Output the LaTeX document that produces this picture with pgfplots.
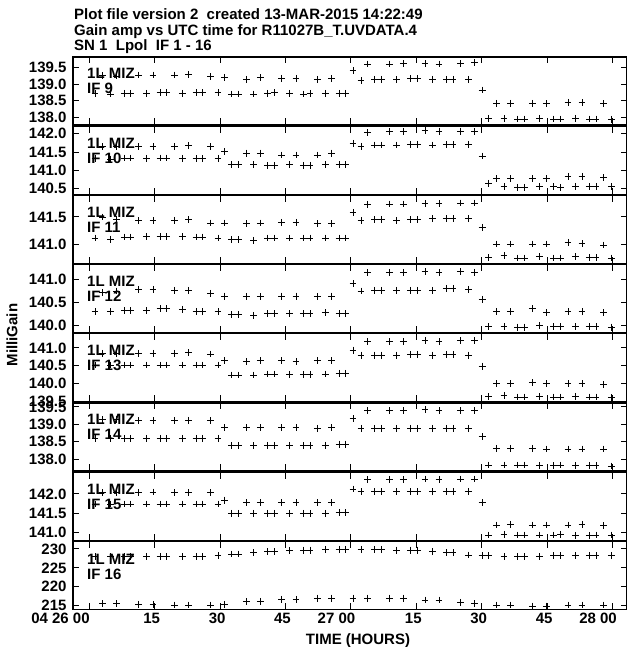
\documentclass[border=0pt]{standalone}
\usepackage{fontspec}
\setmainfont{Liberation Sans}
\usepackage{pgfplots}
\usepackage{pgfplotstable}
\pgfplotsset{compat=1.18}
\newcommand\lab{\bfseries\fontsize{15}{15}\selectfont}

\pgfplotstableread{
t p1 p2 p3 p4 p5 p6 p7 p8
3.1 139.26 141.65 141.50 140.72 140.85 139.13 142.04 215.6
6.3 139.25 141.65 141.46 140.75 140.85 139.13 142.04 215.6
11.3 139.28 141.65 141.43 140.79 140.85 139.11 142.04 215.4
14.6 139.28 141.65 141.43 140.79 140.85 139.11 142.05 215.4
19.6 139.28 141.65 141.44 140.77 140.85 139.11 142.04 215.2
22.8 139.29 141.67 141.45 140.77 140.87 139.12 142.04 215.2
27.8 139.23 141.65 141.39 140.70 140.83 139.11 142.03 215.2
31.0 139.21 141.51 141.39 140.64 140.64 138.91 141.84 215.4
36.0 139.15 141.47 141.38 140.63 140.61 138.91 141.77 216.1
39.2 139.20 141.47 141.39 140.63 140.64 138.91 141.77 216.2
44.1 139.18 141.42 141.40 140.64 140.64 138.91 141.77 216.7
47.4 139.18 141.42 141.40 140.64 140.61 138.91 141.77 216.7
52.3 139.15 141.42 141.38 140.63 140.64 138.89 141.77 217.0
55.6 139.17 141.47 141.38 140.64 140.64 138.91 141.77 217.0
60.5 139.41 141.74 141.58 140.91 140.94 139.17 142.13 217.0
63.8 139.61 142.03 141.73 141.15 141.18 139.39 142.37 217.0
68.8 139.61 142.05 141.74 141.16 141.18 139.39 142.37 217.0
72.0 139.63 142.05 141.74 141.16 141.18 139.39 142.37 217.0
77.0 139.63 142.09 141.75 141.18 141.20 139.42 142.39 216.5
80.2 139.61 142.07 141.75 141.16 141.18 139.40 142.37 216.5
85.2 139.63 142.07 141.76 141.18 141.20 139.40 142.39 215.9
88.4 139.65 142.05 141.76 141.16 141.20 139.40 142.39 215.6
93.4 138.42 140.78 141.00 140.30 140.00 138.31 141.19 215.2
96.6 138.42 140.78 141.00 140.30 140.00 138.31 141.21 215.2
101.6 138.42 140.78 141.00 140.37 140.02 138.31 141.19 214.9
104.8 138.40 140.78 141.00 140.28 140.00 138.29 141.19 214.9
109.8 138.45 140.84 141.03 140.30 140.00 138.29 141.19 215.2
113.0 138.44 140.84 141.01 140.30 140.00 138.29 141.21 215.2
118.0 138.40 140.80 140.98 140.28 139.97 138.29 141.17 215.2
}\tabA

\pgfplotstableread{
t p1 p2 p3 p4 p5 p6 p7 p8
1.3 138.72 141.33 141.11 140.30 140.52 138.60 141.74 228.0
4.9 138.70 141.31 141.09 140.30 140.52 138.60 141.74 228.0
8.0 138.72 141.34 141.13 140.32 140.52 138.60 141.74 228.0
9.5 138.72 141.34 141.13 140.32 140.52 138.60 141.74 228.0
13.1 138.72 141.33 141.14 140.32 140.52 138.60 141.74 228.0
16.2 138.74 141.34 141.14 140.37 140.52 138.60 141.74 228.0
17.7 138.74 141.34 141.14 140.37 140.52 138.60 141.74 228.0
21.3 138.72 141.33 141.14 140.35 140.52 138.60 141.74 228.0
24.5 138.74 141.32 141.13 140.30 140.52 138.60 141.74 228.0
26.0 138.74 141.32 141.13 140.30 140.52 138.60 141.74 228.0
29.5 138.74 141.33 141.11 140.30 140.52 138.60 141.74 228.2
32.7 138.70 141.15 141.08 140.23 140.24 138.38 141.50 228.7
34.2 138.70 141.15 141.08 140.23 140.24 138.38 141.50 228.7
37.7 138.70 141.16 141.07 140.22 140.24 138.38 141.50 229.0
40.9 138.72 141.13 141.11 140.25 140.27 138.40 141.50 229.3
42.4 138.74 141.13 141.11 140.25 140.27 138.38 141.50 229.3
45.9 138.72 141.15 141.11 140.25 140.26 138.38 141.50 229.6
49.1 138.70 141.14 141.11 140.25 140.26 138.38 141.50 229.7
50.6 138.72 141.14 141.11 140.25 140.26 138.38 141.50 229.7
54.1 138.72 141.15 141.11 140.28 140.27 138.40 141.50 229.9
57.3 138.72 141.15 141.11 140.25 140.29 138.43 141.51 229.9
58.8 138.72 141.15 141.11 140.25 140.29 138.43 141.51 229.9
62.3 139.10 141.66 141.43 140.75 140.80 138.89 142.06 229.9
65.5 139.15 141.69 141.45 140.77 140.80 138.89 142.06 229.9
67.0 139.15 141.69 141.45 140.77 140.80 138.89 142.06 229.9
70.5 139.13 141.69 141.43 140.77 140.80 138.89 142.06 229.7
73.7 139.17 141.71 141.45 140.77 140.82 138.89 142.06 229.7
75.2 139.17 141.71 141.45 140.77 140.82 138.89 142.06 229.7
78.7 139.15 141.69 141.47 140.77 140.80 138.89 142.06 229.3
81.9 139.15 141.70 141.47 140.81 140.82 138.89 142.06 229.0
83.4 139.15 141.70 141.47 140.81 140.82 138.89 142.06 229.0
86.9 139.15 141.71 141.47 140.79 140.80 138.89 142.06 228.4
90.1 138.82 141.39 141.31 140.57 140.49 138.64 141.77 228.2
91.6 137.96 140.65 140.75 139.97 139.63 137.83 140.93 228.2
95.1 137.96 140.56 140.78 139.97 139.66 137.83 140.95 228.0
98.3 137.94 140.54 140.74 139.96 139.62 137.83 140.93 228.0
99.8 137.94 140.54 140.74 139.96 139.62 137.83 140.93 228.0
103.3 137.96 140.56 140.77 139.99 139.63 137.81 140.93 228.0
106.5 137.94 140.56 140.74 139.97 139.62 137.81 140.93 228.2
108.0 137.94 140.54 140.74 139.97 139.62 137.83 140.95 228.2
111.5 137.96 140.57 140.77 139.97 139.64 137.81 140.91 228.2
114.7 137.94 140.56 140.75 139.97 139.62 137.81 140.91 228.2
116.2 137.94 140.56 140.75 139.97 139.62 137.81 140.93 228.2
119.7 137.93 140.56 140.74 139.96 139.60 137.80 140.93 228.2
}\tabB

\pgfplotsset{
  panel/.style={
    scale only axis, width=554pt, height=68pt,
    xmin=-3.74, xmax=123.33,
    xtick={0,15,30,45,60,75,90,105,120}, xticklabels={},
    scaled y ticks=false,
    axis line style={line width=1.2pt},
    tick style={black, line width=1pt},
    major tick length=6.5pt,
    tick align=inside,
    tick label style={font=\lab},
    /pgf/number format/assume math mode=true,
    yticklabel style={xshift=-3pt, /pgf/number format/fixed, /pgf/number format/fixed zerofill, /pgf/number format/precision=1},
    anchor=south west,
  },
  pts/.style={only marks, mark=+, mark size=3.4pt, black, mark options={line width=0.8pt}},
}
\tikzset{plab/.style={anchor=base west, inner sep=0pt, font=\lab, xshift=14pt}}

\begin{document}
\begin{tikzpicture}
\useasboundingbox (0,0) rectangle (626pt,647pt);
\node[anchor=base west, inner sep=0pt, font=\lab] at (74pt,627pt) {Plot file version 2\ \ created 13-MAR-2015 14:22:49};
\node[anchor=base west, inner sep=0pt, font=\lab] at (74pt,611.3pt) {Gain amp vs UTC time for R11027B\_T.UVDATA.4};
\node[anchor=base west, inner sep=0pt, font=\lab] at (74pt,596.5pt) {SN 1\ \ Lpol\ \ IF 1 - 16};
\node[rotate=90, inner sep=0pt, font=\lab] at (12pt,312pt) {MilliGain};
\node[anchor=base, inner sep=0pt, font=\lab] at (358pt,2pt) {TIME (HOURS)};

\begin{axis}[panel, at={(73pt,522pt)}, ymin=137.758, ymax=139.825, ytick={138,138.5,139,139.5}]
\addplot[pts] table[x=t,y=p1]{\tabA};
\addplot[pts] table[x=t,y=p1]{\tabB};
\node[plab, yshift=-22pt] at (rel axis cs:0,1) {1L MIZ};
\node[plab, yshift=-37pt] at (rel axis cs:0,1) {IF 9};
\end{axis}

\begin{axis}[panel, at={(73pt,452.8pt)}, ymin=140.352, ymax=142.204, ytick={140.5,141,141.5,142}]
\addplot[pts] table[x=t,y=p2]{\tabA};
\addplot[pts] table[x=t,y=p2]{\tabB};
\node[plab, yshift=-22pt] at (rel axis cs:0,1) {1L MIZ};
\node[plab, yshift=-37pt] at (rel axis cs:0,1) {IF 10};
\end{axis}

\begin{axis}[panel, at={(73pt,383.6pt)}, ymin=140.641, ymax=141.9, ytick={141,141.5}]
\addplot[pts] table[x=t,y=p3]{\tabA};
\addplot[pts] table[x=t,y=p3]{\tabB};
\node[plab, yshift=-22pt] at (rel axis cs:0,1) {1L MIZ};
\node[plab, yshift=-37pt] at (rel axis cs:0,1) {IF 11};
\end{axis}

\begin{axis}[panel, at={(73pt,314.4pt)}, ymin=139.84, ymax=141.331, ytick={140,140.5,141}]
\addplot[pts] table[x=t,y=p4]{\tabA};
\addplot[pts] table[x=t,y=p4]{\tabB};
\node[plab, yshift=-22pt] at (rel axis cs:0,1) {1L MIZ};
\node[plab, yshift=-37pt] at (rel axis cs:0,1) {IF 12};
\end{axis}

\begin{axis}[panel, at={(73pt,245.2pt)}, ymin=139.485, ymax=141.4, ytick={139.5,140,140.5,141}]
\addplot[pts] table[x=t,y=p5]{\tabA};
\addplot[pts] table[x=t,y=p5]{\tabB};
\node[plab, yshift=-22pt] at (rel axis cs:0,1) {1L MIZ};
\node[plab, yshift=-37pt] at (rel axis cs:0,1) {IF 13};
\end{axis}

\begin{axis}[panel, at={(73pt,176pt)}, ymin=137.656, ymax=139.615, ytick={138,138.5,139,139.5}]
\addplot[pts] table[x=t,y=p6]{\tabA};
\addplot[pts] table[x=t,y=p6]{\tabB};
\node[plab, yshift=-22pt] at (rel axis cs:0,1) {1L MIZ};
\node[plab, yshift=-37pt] at (rel axis cs:0,1) {IF 14};
\end{axis}

\begin{axis}[panel, at={(73pt,106.8pt)}, ymin=140.794, ymax=142.569, ytick={141,141.5,142}]
\addplot[pts] table[x=t,y=p7]{\tabA};
\addplot[pts] table[x=t,y=p7]{\tabB};
\node[plab, yshift=-22pt] at (rel axis cs:0,1) {1L MIZ};
\node[plab, yshift=-37pt] at (rel axis cs:0,1) {IF 15};
\end{axis}

\begin{axis}[panel, at={(73pt,37.6pt)}, ymin=214.02, ymax=232.01, ytick={215,220,225,230},
  yticklabel style={/pgf/number format/precision=0},
  xticklabel style={xshift=-3pt},
  xticklabels={\llap{04 26 }00\kern10pt,15,30,45,\llap{27 }00\kern2pt,15,30,45,\llap{28 }00\kern2pt}]
\addplot[pts] table[x=t,y=p8]{\tabA};
\addplot[pts] table[x=t,y=p8]{\tabB};
\node[plab, yshift=-23.5pt] at (rel axis cs:0,1) {1L MIZ};
\node[plab, yshift=-38.5pt] at (rel axis cs:0,1) {IF 16};
\end{axis}
\end{tikzpicture}
\end{document}
